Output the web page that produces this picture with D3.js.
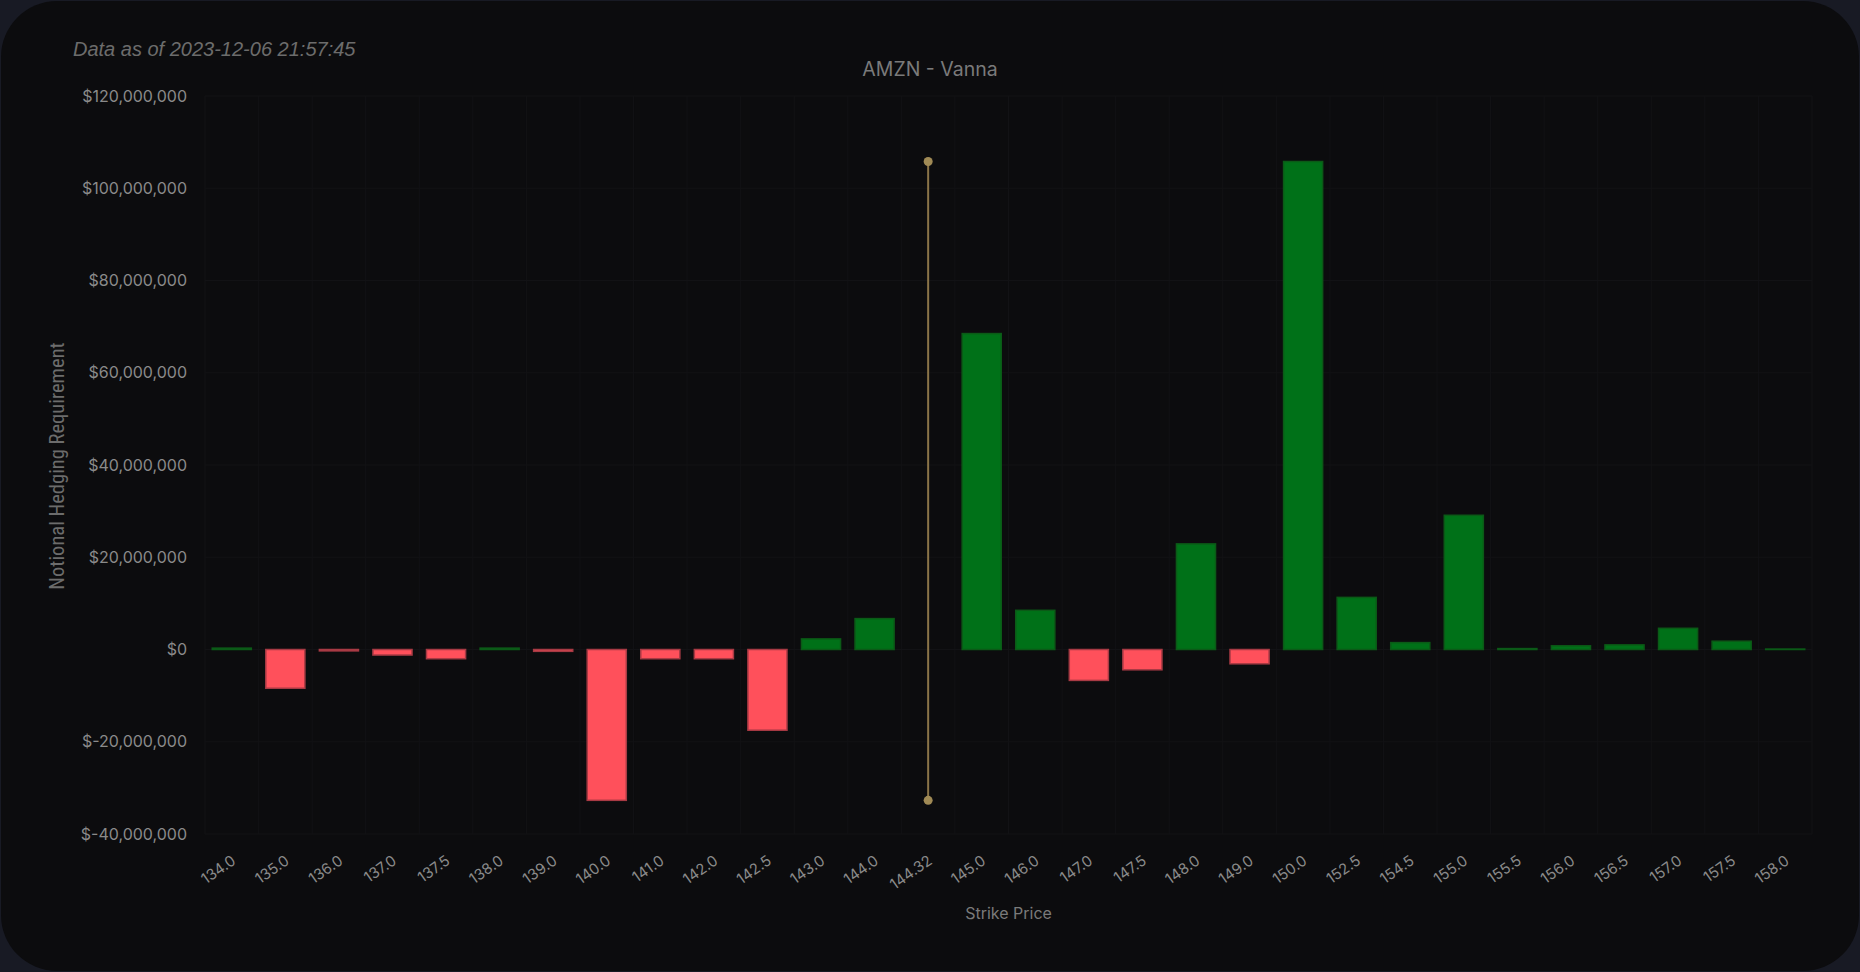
<!DOCTYPE html>
<html><head><meta charset="utf-8">
<script src="https://cdn.jsdelivr.net/npm/d3@7"></script>
<style>
html,body{margin:0;padding:0;background:#181a24;}
#card{position:absolute;left:1px;top:1px;width:1858px;height:970px;background:#0c0c0e;border-radius:56px;}
svg{position:absolute;left:0;top:0;}
</style></head>
<body><div id="card"></div><svg id="chart" width="1860" height="972"></svg>
<script>
const strikes = ["134.0","135.0","136.0","137.0","137.5","138.0","139.0","140.0","141.0","142.0","142.5","143.0","144.0","144.32","145.0","146.0","147.0","147.5","148.0","149.0","150.0","152.5","154.5","155.0","155.5","156.0","156.5","157.0","157.5","158.0"];
const vanna = [0.3,-8.4,-0.3,-1.2,-2.0,0.3,-0.4,-32.7,-2.0,-2.0,-17.5,2.3,6.7,null,68.5,8.5,-6.7,-4.4,22.9,-3.1,105.8,11.3,1.5,29.1,0.2,0.8,1.0,4.6,1.8,0.1].map(v => v === null ? null : v * 1e6);
const spotLabel = "144.32";
const yTicks = [-40e6,-20e6,0,20e6,40e6,60e6,80e6,100e6,120e6];
const titleText = "AMZN - Vanna";
const asOfText = "Data as of 2023-12-06 21:57:45";

const svg = d3.select("#chart");
const m = {left:205, right:1812, top:96, bottom:834};

const x = d3.scaleBand().domain(strikes).range([m.left, m.right]).paddingInner(0.27).paddingOuter(0.135);
const y = d3.scaleLinear().domain([-40e6,120e6]).range([m.bottom, m.top]);

// gridlines
const step = x.step();
const bounds = d3.range(strikes.length + 1).map(i => m.left + i * step);
svg.append("g").selectAll("line").data(bounds).join("line")
  .attr("x1", d => d).attr("x2", d => d).attr("y1", m.top).attr("y2", m.bottom)
  .attr("stroke", "#121215").attr("stroke-width", 1);
svg.append("g").selectAll("line").data(yTicks).join("line")
  .attr("x1", m.left).attr("x2", m.right).attr("y1", d => y(d)).attr("y2", d => y(d))
  .attr("stroke", "#121215").attr("stroke-width", 1);

// y axis
const yAxis = d3.axisLeft(y).tickValues(yTicks).tickSize(0).tickPadding(18)
  .tickFormat(d => "$" + d3.format(",")(d).replace("\u2212", "-"));
const gy = svg.append("g").attr("transform", `translate(${m.left},0)`).call(yAxis);
gy.select(".domain").remove();
gy.selectAll("text").attr("fill", "#8a8a8a").attr("font-family", "Inter, sans-serif").attr("font-size", 16);

// x axis
const xAxis = d3.axisBottom(x).tickSize(0).tickPadding(0);
const gx = svg.append("g").attr("transform", `translate(0,${m.bottom})`).call(xAxis);
gx.select(".domain").remove();
gx.selectAll("text").attr("fill", "#8a8a8a").attr("font-family", "Inter, sans-serif").attr("font-size", 15)
  .attr("text-anchor", "end").attr("dy", 0).attr("y", 0)
  .attr("transform", "translate(5,29) rotate(-35)");

// bars
const data = strikes.map((s, i) => ({s, v: vanna[i]})).filter(d => d.v !== null);
svg.append("g").selectAll("rect").data(data).join("rect")
  .attr("x", d => x(d.s))
  .attr("width", x.bandwidth())
  .attr("y", d => y(Math.max(0, d.v)))
  .attr("height", d => Math.abs(y(d.v) - y(0)))
  .attr("fill", d => d.v >= 0 ? "#007118" : "#ff505b")
  .attr("stroke", d => d.v >= 0 ? "#0b5a17" : "#a83a44")
  .attr("stroke-width", 1.5);

// spot line
const vmax = d3.max(vanna), vmin = d3.min(vanna);
const sx = x(spotLabel) + x.bandwidth() / 2;
svg.append("line").attr("x1", sx).attr("x2", sx).attr("y1", y(vmax)).attr("y2", y(vmin))
  .attr("stroke", "#8a7448").attr("stroke-width", 2);
svg.selectAll("circle.spot").data([vmax, vmin]).join("circle")
  .attr("cx", sx).attr("cy", d => y(d)).attr("r", 4.5).attr("fill", "#a08a55");

// texts
svg.append("text").attr("x", 930).attr("y", 76).attr("text-anchor", "middle")
  .attr("fill", "#7a7a7a").attr("font-family", "Inter, sans-serif").attr("font-size", 19.5).text(titleText);
svg.append("text").attr("x", 73).attr("y", 56)
  .attr("fill", "#6c6c6c").attr("font-family", "Liberation Sans, Arial, sans-serif").attr("font-style", "italic").attr("font-size", 20).text(asOfText);
svg.append("text").attr("transform", `translate(64,${(m.top + m.bottom) / 2 + 1}) rotate(-90)`).attr("text-anchor", "middle")
  .attr("fill", "#6c6c6c").attr("font-family", "'Liberation Sans Narrow', 'Roboto Condensed', Roboto, sans-serif").attr("font-size", 20.5).text("Notional Hedging Requirement");
svg.append("text").attr("x", (m.left + m.right) / 2).attr("y", 919).attr("text-anchor", "middle")
  .attr("fill", "#7a7a7a").attr("font-family", "Inter, sans-serif").attr("font-size", 16).text("Strike Price");
</script></body></html>
